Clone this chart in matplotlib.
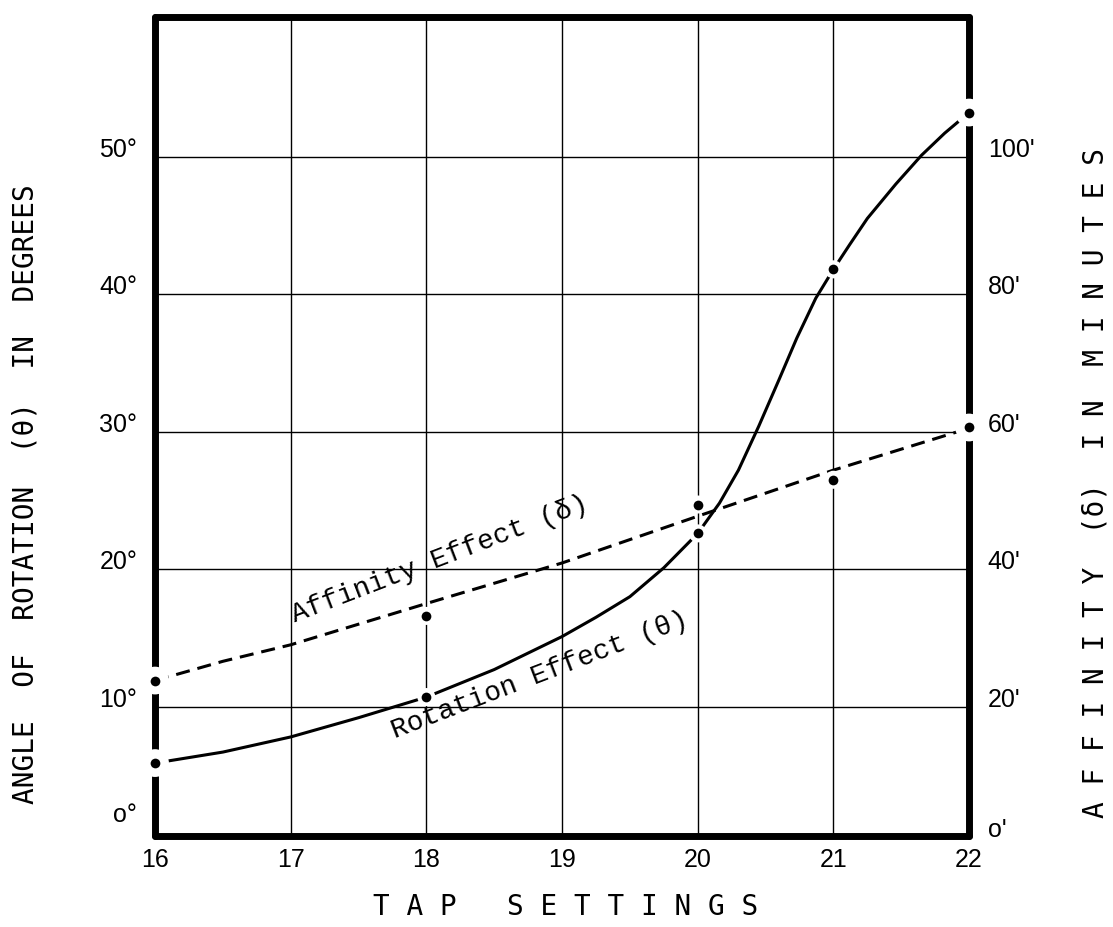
import matplotlib.pyplot as plt

# measured points (tap setting, value)
taps = [16, 18, 20, 21, 22]
rotation_deg = [5.9, 10.7, 22.6, 41.8, 53.2]
affinity_min = [23.8, 33.2, 49.4, 53.0, 60.6]

# hand drawn curves
rot_curve_x = [16.0, 16.5, 17.0, 17.5, 18.0, 18.5, 19.0, 19.25, 19.5, 19.75, 20.0, 20.16,
               20.3, 20.45, 20.6, 20.73, 20.87, 21.0, 21.12, 21.25, 21.46, 21.65, 21.82, 22.0]
rot_curve_y = [5.9, 6.7, 7.8, 9.2, 10.7, 12.7, 15.1, 16.5, 18.0, 20.1, 22.6, 24.8,
               27.2, 30.4, 33.8, 36.8, 39.7, 41.8, 43.6, 45.5, 48.0, 50.1, 51.7, 53.2]
aff_curve_x = [16.0, 16.5, 17.0, 18.0, 19.0, 20.0, 21.0, 22.0]
aff_curve_y = [23.8, 26.6, 29.0, 35.0, 40.9, 47.7, 54.4, 60.5]

x_ticks = [16, 17, 18, 19, 20, 21, 22]
deg_ticks = [0, 10, 20, 30, 40, 50]
deg_labels = ['o°', '10°', '20°', '30°', '40°', '50°']
min_ticks = [0, 20, 40, 60, 80, 100]
min_labels = ["o'", "20'", "40'", "60'", "80'", "100'"]

tick_font = ['Liberation Sans Narrow', 'Liberation Sans']
label_font = 'DejaVu Sans Mono'
note_font = 'Liberation Mono'

fig = plt.figure(figsize=(11.13, 9.27), dpi=100)
ax = fig.add_axes([0.1393, 0.0982, 0.7314, 0.8835])
ax.set_xlim(16, 22)
ax.set_ylim(0.6, 60.15)
ax2 = ax.twinx()
ax2.set_ylim(1.2, 120.3)
ax2.set_position(ax.get_position())

# grid only on inner lines
ax.set_xticks(x_ticks[1:-1])
ax.set_yticks(deg_ticks[1:])
ax.set_axisbelow(True)
ax.grid(True, color='black', linewidth=1.0)
ax.tick_params(length=0, labelleft=False, labelbottom=False)
ax2.set_yticks([])
ax2.tick_params(length=0, labelright=False)
for s in ax2.spines.values():
    s.set_visible(False)
for s in ax.spines.values():
    s.set_linewidth(5)
    s.set_capstyle('round')

# curves
ax.plot(rot_curve_x, rot_curve_y, color='black', lw=2.2, zorder=2, solid_joinstyle='round')
aff_line, = ax2.plot(aff_curve_x, aff_curve_y, color='black', lw=2.2, zorder=2)
aff_line.set_dashes([4.6, 2.6])

# dots with white halo (gaps in the lines and the frame)
halo = [20 ** 2 if t in (16, 22) else 13 ** 2 for t in taps]
ax.scatter(taps, rotation_deg, s=halo, color='white', zorder=3, clip_on=False, linewidths=0)
ax.scatter(taps, rotation_deg, s=7 ** 2, color='black', zorder=4, clip_on=False, linewidths=0)
ax2.scatter(taps, affinity_min, s=halo, color='white', zorder=3, clip_on=False, linewidths=0)
ax2.scatter(taps, affinity_min, s=7 ** 2, color='black', zorder=4, clip_on=False, linewidths=0)

# tick labels
for t in x_ticks:
    ax.text(t, -0.038, str(t), transform=ax.get_xaxis_transform(), ha='center', va='baseline',
            fontsize=18, family=tick_font)
for v, lab in zip(deg_ticks, deg_labels):
    yv = 1.6 if v == 0 else v
    ax.text(-0.022, yv, lab, transform=ax.get_yaxis_transform(), ha='right', va='baseline',
            fontsize=18, family=tick_font)
for v, lab in zip(min_ticks, min_labels):
    yv = 1.0 if v == 0 else v
    ax2.text(1.023, yv, lab, transform=ax2.get_yaxis_transform(), ha='left', va='baseline',
             fontsize=18, family=tick_font)

# axis titles
fig.text(0.0225, 0.467, 'ANGLE  OF  ROTATION  (θ)  IN  DEGREES', rotation=90,
         ha='center', va='center', fontsize=20, family=label_font)
fig.text(0.984, 0.479, 'A F F I N I T Y  (δ)  I N  M I N U T E S', rotation=90,
         ha='center', va='center', fontsize=20, family=label_font)
fig.text(0.508, 0.022, 'T A P   S E T T I N G S', ha='center', va='center',
         fontsize=20, family=label_font)

# curve notes
ax.text(17.03, 16.1, 'Affinity Effect (δ)', rotation=21, rotation_mode='anchor',
        ha='left', va='baseline', fontsize=20, family=note_font)
ax.text(17.77, 7.7, 'Rotation Effect (θ)', rotation=21, rotation_mode='anchor',
        ha='left', va='baseline', fontsize=20, family=note_font)

fig.savefig('out.png', dpi=100)
